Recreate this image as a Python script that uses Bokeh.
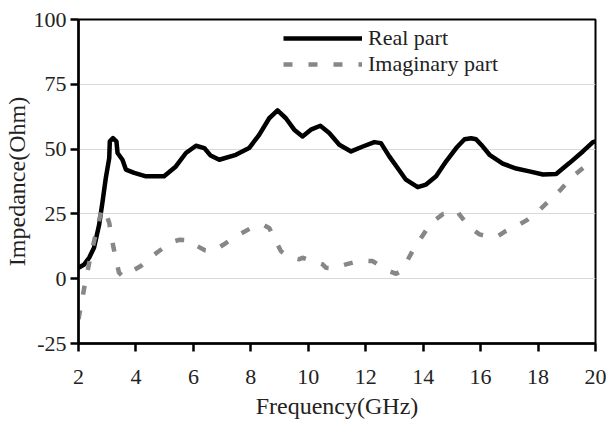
from bokeh.plotting import figure
from bokeh.models import Range1d, FixedTicker, Legend, LegendItem
from bokeh.embed import file_html
from bokeh.resources import INLINE

# ---- data ----
freq_real = [2.0, 2.2, 2.37, 2.54, 2.72, 2.84, 2.95, 3.07, 3.09, 3.2, 3.32, 3.36, 3.53, 3.65,
             3.94, 4.35, 4.98, 5.39, 5.74, 6.09, 6.38, 6.6, 6.9, 7.48, 7.94, 8.29, 8.64,
             8.93, 9.22, 9.51, 9.8, 10.09, 10.42, 10.73, 11.08, 11.49, 11.9, 12.3, 12.53,
             12.82, 13.11, 13.4, 13.81, 14.1, 14.45, 14.8, 15.15, 15.44, 15.67, 15.84,
             16.02, 16.31, 16.77, 17.24, 17.7, 18.17, 18.63, 19.09, 19.56, 19.91, 20.0]
real_part = [4.2, 5.5, 8.1, 11.9, 20.9, 29.9, 38.8, 46.5, 53.0, 54.2, 53.0, 48.5, 45.9, 42.1,
             40.8, 39.5, 39.5, 43.3, 48.5, 51.3, 50.4, 47.5, 45.9, 47.8, 50.4, 55.5, 61.9,
             64.9, 61.9, 57.5, 54.9, 57.5, 59.0, 56.2, 51.7, 49.1, 51.0, 52.7, 52.3,
             47.2, 42.7, 38.2, 35.3, 36.3, 39.5, 45.3, 50.4, 53.8, 54.2, 53.8,
             51.7, 47.8, 44.4, 42.5, 41.4, 40.2, 40.4, 44.6, 49.1, 52.7, 53.0]

freq_imag = [2.0, 2.2, 2.37, 2.57, 2.81, 2.9, 3.07, 3.22, 3.41, 3.55, 3.8, 4.17, 4.6, 5.04,
             5.16, 5.5, 5.91, 6.03, 6.4, 6.67, 7.1, 7.6, 8.0, 8.41, 8.64, 8.85, 9.05, 9.3,
             9.69, 9.8, 10.1, 10.5, 10.62, 10.9, 11.31, 11.8, 12.24, 12.42, 12.8, 13.06,
             13.23, 13.45, 13.69, 14.0, 14.27, 14.7, 15.2, 15.26, 15.6, 15.96, 16.3, 16.6,
             16.83, 17.2, 17.64, 18.0, 18.4, 18.8, 19.21, 19.6, 20.0]
imag_part = [-15.6, -3.5, 6.0, 15.8, 26.7, 27.0, 21.5, 11.9, 2.3, 0.8, 2.5, 4.9, 9.0, 12.6,
             13.8, 15.0, 14.8, 13.2, 11.0, 10.6, 13.5, 17.1, 19.5, 20.9, 19.6, 15.0, 10.6, 8.5,
             7.5, 8.1, 7.0, 5.5, 4.2, 4.0, 5.5, 7.0, 6.8, 5.5, 3.0, 1.9,
             3.0, 7.0, 11.9, 17.0, 21.5, 25.0, 26.0, 24.8, 20.0, 17.1, 16.2, 16.4,
             18.1, 20.0, 22.8, 26.0, 30.2, 34.5, 39.5, 43.0, 46.0]

x_ticks = [2, 4, 6, 8, 10, 12, 14, 16, 18, 20]
y_ticks = [-25, 0, 25, 50, 75, 100]
y_tick_labels = {-25: "-25", 0: "0", 25: "25", 50: "50", 75: "75", 100: "100"}
grid_levels = [0, 25, 50, 75]

FONT = "Liberation Serif"

p = figure(width=606, height=421, x_range=Range1d(2, 20), y_range=Range1d(-25, 100),
           output_backend="svg", toolbar_location=None,
           min_border_left=78, min_border_right=11, min_border_top=19, min_border_bottom=78)

r_real = p.line(freq_real, real_part, line_color="black", line_width=4.5, line_join="round")
r_imag = p.line(freq_imag, imag_part, line_color="#878787", line_width=4.5,
                line_dash="9 16", line_cap="butt")

for ax in (p.xaxis[0], p.yaxis[0]):
    ax.axis_line_width = 2.5
    ax.axis_line_color = "black"
    ax.major_tick_line_width = 2.5
    ax.major_tick_line_color = "black"
    ax.major_tick_out = 8
    ax.major_tick_in = 0
    ax.minor_tick_out = 0
    ax.minor_tick_in = 0
    ax.major_label_text_font = FONT
    ax.major_label_text_font_size = "22px"
    ax.major_label_text_color = "#222222"
    ax.axis_label_text_font = FONT
    ax.axis_label_text_font_size = "24px"
    ax.axis_label_text_font_style = "normal"
    ax.axis_label_text_color = "#222222"

p.xaxis.ticker = FixedTicker(ticks=x_ticks)
p.yaxis.ticker = FixedTicker(ticks=y_ticks)
p.yaxis.major_label_overrides = y_tick_labels
p.xaxis.axis_label = "Frequency(GHz)"
p.yaxis.axis_label = "Impedance(Ohm)"
p.xaxis.major_label_standoff = 18
p.yaxis.major_label_standoff = 4
p.xaxis.axis_label_standoff = 6
p.yaxis.axis_label_standoff = 1

p.xgrid.visible = False
p.ygrid.ticker = FixedTicker(ticks=grid_levels)
p.ygrid.grid_line_color = "#d9d9d9"
p.ygrid.grid_line_width = 1

p.outline_line_color = "black"
p.outline_line_width = 2
p.outline_line_alpha = 1
p.background_fill_color = "white"
p.border_fill_color = "white"

legend = Legend(items=[LegendItem(label="Real part", renderers=[r_real]),
                       LegendItem(label="Imaginary part", renderers=[r_imag])],
                location=(205, 266), orientation="vertical",
                glyph_width=79, glyph_height=24, label_height=24, label_standoff=6,
                padding=0, margin=0, spacing=0,
                label_text_font=FONT, label_text_font_size="22px",
                label_text_color="#222222",
                border_line_color=None, background_fill_alpha=0)
p.add_layout(legend)

open("out.html", "w").write(file_html(p, INLINE))
